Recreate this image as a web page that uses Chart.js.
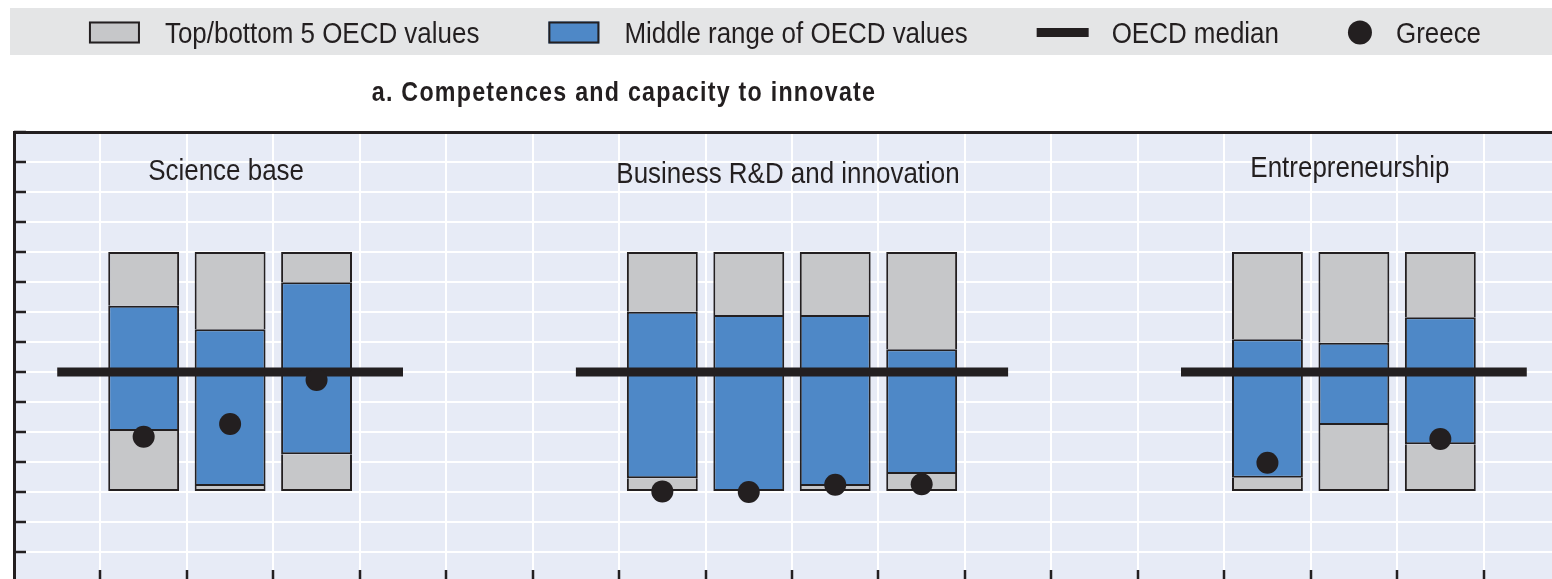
<!DOCTYPE html>
<html>
<head>
<meta charset="utf-8">
<title>a. Competences and capacity to innovate</title>
<script src="https://cdn.jsdelivr.net/npm/chart.js@4.4.1/dist/chart.umd.min.js"></script>
<style>
  html, body { margin: 0; padding: 0; background: #fff; overflow: hidden; }
  canvas { display: block; }
</style>
</head>
<body>
<canvas id="chart" width="1570" height="592"></canvas>
<script>
// x slots: indicators of each group, empty slots keep the groups apart
const categories = [
  '', 'Science base 1', 'Science base 2', 'Science base 3', '', '',
  '', 'Business R&D 1', 'Business R&D 2', 'Business R&D 3', 'Business R&D 4', '',
  '', '', 'Entrepreneurship 1', 'Entrepreneurship 2', 'Entrepreneurship 3', ''
];

// normalised index, OECD median = 100
const oecdMin  = [null, 0, 0, 0, null, null, null, 0, 0, 0, 0, null, null, null, 0, 0, 0, null];
const oecdMax  = [null, 200, 200, 200, null, null, null, 200, 200, 200, 200, null, null, null, 200, 200, 200, null];
const midLow   = [null, 50.8, 5, 31.4, null, null, null, 11.4, 0, 5, 15, null, null, null, 11.9, 55.8, 39.7, null];
const midHigh  = [null, 155.3, 135.6, 174.7, null, null, null, 150.3, 147.5, 147.5, 119, null, null, null, 127.2, 124.4, 145.6, null];
const greece   = [null, 46.1, 56.7, 93.3, null, null, null, 0.5, 0, 6, 6.5, null, null, null, 24.4, null, 44.2, null];
const median   = [100, 100, 100, 100, 100, null, 100, 100, 100, 100, 100, 100, null, 100, 100, 100, 100, 100];

const groupNames = ['Science base', 'Business R&D and innovation', 'Entrepreneurship'];
const groupSlots = [[1, 3], [7, 10], [14, 16]];
const groupLabelY = [260, 257.5, 262.5];

const yTicks = { min: -75, max: 300, step: 25 };

const INK = '#231f20';
const GREY = '#c6c7c9';
const BLUE = '#4e88c7';
const FONT = "'Liberation Sans', Arial, sans-serif";
const NARROW = 0.865; // squeeze the text to look like a condensed face

function narrowText(ctx, text, x, y, align, sx) {
  ctx.save();
  ctx.translate(x, y);
  ctx.scale(sx, 1);
  ctx.textAlign = align;
  ctx.textBaseline = 'alphabetic';
  ctx.fillText(text, 0, 0);
  ctx.restore();
}

const plotBackground = {
  id: 'plotBackground',
  beforeDraw(chart, args, opts) {
    const { ctx, chartArea: a } = chart;
    ctx.save();
    ctx.fillStyle = opts.color;
    ctx.fillRect(a.left, a.top, a.right - a.left, a.bottom - a.top);
    ctx.restore();
  }
};

// tick marks pointing into the plot, on the left and bottom edges
const innerTicks = {
  id: 'innerTicks',
  afterDraw(chart, args, opts) {
    const { ctx, chartArea: a, scales: { x, y } } = chart;
    ctx.save();
    ctx.strokeStyle = opts.color;
    ctx.lineWidth = opts.width;
    ctx.beginPath();
    y.ticks.forEach(t => {
      const py = Math.round(y.getPixelForValue(t.value));
      ctx.moveTo(a.left, py);
      ctx.lineTo(a.left + opts.length, py);
    });
    for (let i = 1; i < categories.length; i++) {
      const px = Math.round(x.getPixelForValue(i - 0.5));
      ctx.moveTo(px, a.bottom);
      ctx.lineTo(px, a.bottom - opts.length);
    }
    ctx.stroke();
    ctx.restore();
  }
};

const groupLabels = {
  id: 'groupLabels',
  afterDraw(chart, args, opts) {
    const { ctx, scales: { x, y } } = chart;
    ctx.save();
    ctx.font = opts.font;
    ctx.fillStyle = opts.color;
    groupNames.forEach((name, i) => {
      const [a, b] = groupSlots[i];
      const cx = (x.getPixelForValue(a) + x.getPixelForValue(b)) / 2 + opts.shift;
      narrowText(ctx, name, cx, y.getPixelForValue(groupLabelY[i]), 'center', NARROW);
    });
    ctx.restore();
  }
};

const panelTitle = {
  id: 'panelTitle',
  afterDraw(chart, args, opts) {
    const ctx = chart.ctx;
    ctx.save();
    ctx.font = opts.font;
    ctx.letterSpacing = opts.letterSpacing;
    ctx.fillStyle = opts.color;
    narrowText(ctx, opts.text, opts.x, opts.y, 'center', opts.squeeze);
    ctx.restore();
  }
};

// legend band drawn across the top
const legendBand = {
  id: 'legendBand',
  afterDraw(chart, args, opts) {
    const ctx = chart.ctx;
    ctx.save();
    ctx.fillStyle = opts.background;
    ctx.fillRect(opts.left, opts.top, chart.width - opts.left, opts.height);
    ctx.font = opts.font;
    const items = opts.items.map(it => ({ ...it, textW: ctx.measureText(it.text).width * NARROW }));
    const total = items.reduce((s, it, i) => s + it.iconW + it.gap + it.textW + (i ? opts.spacing : 0), 0);
    let x = opts.centerX - total / 2;
    const cy = opts.top + opts.height / 2 + 1;
    items.forEach(it => {
      ctx.fillStyle = it.color;
      if (it.icon === 'box') {
        ctx.fillRect(x, cy - 11, it.iconW, 22);
        ctx.strokeStyle = INK;
        ctx.lineWidth = 2;
        ctx.strokeRect(x + 1, cy - 10, it.iconW - 2, 20);
      } else if (it.icon === 'line') {
        ctx.fillRect(x, cy - 4.5, it.iconW, 9);
      } else {
        ctx.beginPath();
        ctx.arc(x + it.iconW / 2, cy, it.iconW / 2, 0, Math.PI * 2);
        ctx.fill();
      }
      x += it.iconW + it.gap;
      ctx.fillStyle = opts.color;
      narrowText(ctx, it.text, x, opts.baseline, 'left', NARROW);
      x += it.textW + opts.spacing;
    });
    ctx.restore();
  }
};

const floating = (lo, hi) => lo.map((v, i) => (v === null || hi[i] === null ? null : [v, hi[i]]));

const barStyle = {
  type: 'bar',
  borderColor: INK,
  borderWidth: 2,
  barPercentage: 0.82,
  categoryPercentage: 1,
  order: 2
};

new Chart(document.getElementById('chart'), {
  data: {
    labels: categories,
    datasets: [
      { ...barStyle, label: 'Top/bottom 5 OECD values', data: floating(oecdMin, midLow), backgroundColor: GREY, borderSkipped: 'top' },
      { ...barStyle, label: 'Middle range of OECD values', data: floating(midLow, midHigh), backgroundColor: BLUE, borderSkipped: false },
      { ...barStyle, label: 'Top/bottom 5 OECD values', data: floating(midHigh, oecdMax), backgroundColor: GREY, borderSkipped: 'bottom' },
      {
        type: 'line', label: 'OECD median', data: median,
        borderColor: INK, borderWidth: 9, pointRadius: 0, spanGaps: false, order: 1
      },
      {
        type: 'line', label: 'Greece', data: greece, showLine: false,
        pointRadius: 11, pointBackgroundColor: INK, pointBorderWidth: 0, order: 0
      }
    ]
  },
  options: {
    responsive: false,
    animation: false,
    events: [],
    layout: { autoPadding: false, padding: { top: 132, left: 14, right: 0, bottom: 10 } },
    scales: {
      x: {
        type: 'category',
        position: 'top',
        stacked: true,
        offset: true,
        grid: { offset: true, color: '#ffffff', lineWidth: 2, drawTicks: false },
        border: { color: INK, width: 3 },
        ticks: { display: false }
      },
      y: {
        stacked: false,
        min: yTicks.min,
        max: yTicks.max,
        grid: { color: '#ffffff', lineWidth: 2, drawTicks: false },
        border: { color: INK, width: 3 },
        ticks: { display: false, stepSize: yTicks.step }
      }
    },
    plugins: {
      legend: { display: false },
      tooltip: { enabled: false },
      plotBackground: { color: '#e7ebf6' },
      innerTicks: { color: INK, width: 2.5, length: 12 },
      groupLabels: { font: '30px ' + FONT, color: INK, shift: -4 },
      panelTitle: {
        text: 'a. Competences and capacity to innovate',
        font: 'bold 28px ' + FONT, letterSpacing: '1.5px', squeeze: 0.83, color: INK, x: 624, y: 101
      },
      legendBand: {
        background: '#e4e5e6', left: 10, top: 8, height: 47, baseline: 43, centerX: 785,
        font: '30px ' + FONT, color: INK, spacing: 69,
        items: [
          { icon: 'box', color: GREY, iconW: 51, gap: 25, text: 'Top/bottom 5 OECD values' },
          { icon: 'box', color: BLUE, iconW: 51, gap: 25, text: 'Middle range of OECD values' },
          { icon: 'line', color: INK, iconW: 52, gap: 23, text: 'OECD median' },
          { icon: 'dot', color: INK, iconW: 24, gap: 24, text: 'Greece' }
        ]
      }
    }
  },
  plugins: [plotBackground, innerTicks, groupLabels, panelTitle, legendBand]
});
</script>
</body>
</html>
